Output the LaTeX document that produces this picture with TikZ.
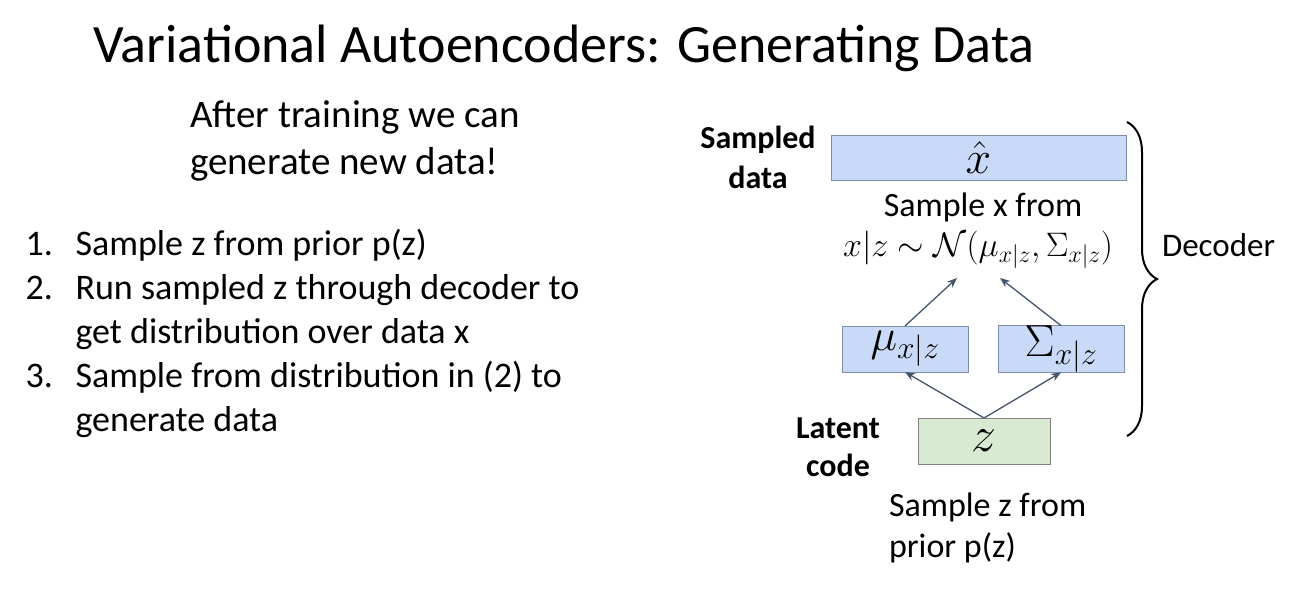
\documentclass[tikz,border=0pt]{standalone}
\usepackage{fix-cm}
\usepackage{fontspec}
\setmainfont{Carlito}
\usetikzlibrary{positioning, decorations.pathreplacing, arrows.meta}

\definecolor{boxblue}{HTML}{C9DAF8}
\definecolor{boxgreen}{HTML}{D9EAD3}
\definecolor{edgeblue}{HTML}{7D8EA8}
\definecolor{edgegray}{HTML}{808080}
\definecolor{arrowgray}{HTML}{44546A}

\begin{document}
\begin{tikzpicture}[x=1pt,y=-1pt,
    every node/.style={inner sep=0pt, outer sep=0pt},
    blubox/.style={draw=edgeblue, fill=boxblue, line width=1pt},
    grnbox/.style={draw=edgegray, fill=boxgreen, line width=1pt},
    arr/.style={-{Stealth[length=10pt,width=8pt]}, draw=arrowgray, line width=1.3pt}]
  \useasboundingbox (0,0) rectangle (1298,605);

  % title and left text
  \node (title) [anchor=base west, font=\fontsize{54}{64}\selectfont] at (93,62)
    {Variational Autoencoders: Generating Data};
  \node (intro) [anchor=north west, align=left, font=\fontsize{39}{47}\selectfont] at (190,101)
    {After training we can\\generate new data!};
  \begin{scope}[every node/.style={anchor=north west, align=left, font=\fontsize{36}{44}\selectfont}]
    \node (num1) at (22,226) {\vphantom{(}1.};
    \node (num2) at (22,270) {\vphantom{(}2.};
    \node (num3) at (22,358) {\vphantom{(}3.};
    \node (item1) at (72,226) {\vphantom{(}Sample z from prior p(z)};
    \node (item2) at (72,270) {\vphantom{(}Run sampled z through decoder to\\get distribution over data x};
    \node (item3) at (72,358) {\vphantom{(}Sample from distribution in (2) to\\generate data};
  \end{scope}

  % decoder boxes
  \node (xhat) [blubox, minimum width=295, minimum height=45, font=\fontsize{46}{50}\selectfont]
    at (978.5,157.5) {$\hat{x}$};
  \node (mu) [blubox, minimum width=126, minimum height=46, font=\fontsize{45}{50}\selectfont]
    at (905,349) {$\mu_{x|z}$};
  \node (sigma) [blubox, minimum width=126, minimum height=46, font=\fontsize{45}{50}\selectfont]
    at (1061,349) {$\Sigma_{x|z}$};
  \node (z) [grnbox, minimum width=132, minimum height=46, font=\fontsize{50}{54}\selectfont]
    at (984,441) {$z$};

  \node (sampx) [anchor=base, font=\fontsize{34}{40}\selectfont] at (983,216) {Sample x from};
  \node (dist) [anchor=base, font=\fontsize{34}{40}\selectfont] at (978,256)
    {$x|z \sim \mathcal{N}(\mu_{x|z}, \Sigma_{x|z})$};
  \coordinate (mutip) at (957,278);
  \coordinate (sigtip) at (1000,278);

  \node (sampled) [align=center, font=\fontsize{32}{40}\selectfont\bfseries] at (758,157)
    {Sampled\\data};
  \node (latent) [align=center, font=\fontsize{32}{38}\selectfont\bfseries] at (838,447)
    {Latent\\code};
  \node (sampz) [anchor=north west, align=left, font=\fontsize{34}{41}\selectfont] at (889,493)
    {Sample z from\\prior p(z)};

  \draw[arr] (mu.north) -- (mutip);
  \draw[arr] (sigma.north) -- (sigtip);
  \draw[arr] (z.north) -- (mu.south);
  \draw[arr] (z.north) -- (sigma.south);

  % brace
  \draw[decorate, decoration={brace, amplitude=30pt}, line width=2pt]
    (1127,122) -- (1127,436);
  \node (decoder) [anchor=base west, font=\fontsize{33}{38}\selectfont] at (1162,256) {Decoder};
\end{tikzpicture}
\end{document}
